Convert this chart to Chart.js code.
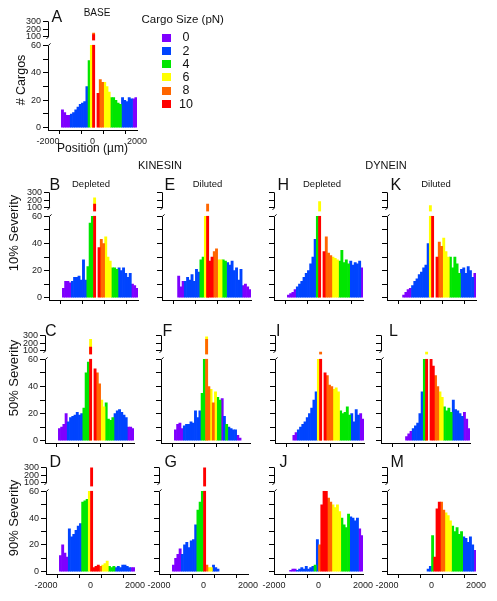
<!DOCTYPE html>
<html>
<head>
<meta charset="utf-8">
<script src="https://cdn.jsdelivr.net/npm/chart.js@4.4.1/dist/chart.umd.min.js"></script>
<style>
  body { margin: 0; background: #fff; }
  #page { position: relative; width: 497px; height: 601px; overflow: hidden; font-family: "Liberation Sans", Arial, sans-serif; color: #111; }
  canvas { position: absolute; }
  .txt { position: absolute; white-space: nowrap; line-height: 1; }
  .letter { font-size: 16px; }
  .small { font-size: 9.5px; }
  .rot { font-size: 13px; transform: translate(-50%, -50%) rotate(-90deg); }
  .sw { position: absolute; width: 9px; height: 8px; }
</style>
</head>
<body>
<div id="page"></div>
<script>
// bin centres in µm (100 µm bins from -2000 to 2000)
const binCenters = [-1950, -1850, -1750, -1650, -1550, -1450, -1350, -1250, -1150, -1050,
    -950, -850, -750, -650, -550, -450, -350, -250, -150, -50,
    50, 150, 250, 350, 450, 550, 650, 750, 850, 950,
    1050, 1150, 1250, 1350, 1450, 1550, 1650, 1750, 1850, 1950];

const cargoSizes = [0, 2, 4, 6, 8, 10];
const cargoColors = ["#7f00ff", "#0044ff", "#00e600", "#ffff00", "#ff6600", "#ff0000"];

const yTicks = [0, 10, 20, 30, 40, 50, 60, 100, 200, 300];
const yLabels = [0, 20, 40, 60, 100, 200, 300];
const xLabels = [-2000, 0, 2000];

// counts per bin (height of the histogram) and the cargo size whose bar shows on top
const countsA = [0,0,0,0,0,0,13,11,9,9, 10,11,13,15,17,18,19,30,49,60, 130,0,25,35,33,33,30,26,22,22, 20,18,17,22,20,19,22,21,21,22];
const sizesA  = [0,0,0,0,0,0,0,0,0,0, 2,2,2,2,2,2,2,2,4,6, 10,10,10,8,8,6,6,6,4,4, 4,4,4,2,2,2,2,2,0,0];
const tipsA = [[20, 150, 8]];

const countsB = [0,0,0,0,0,0,7,12,12,11, 12,15,15,16,13,28,13,23,55,60, 150,0,37,43,40,45,30,27,22,22, 21,22,20,22,18,15,18,10,9,7];
const sizesB  = [0,0,0,0,0,0,0,0,0,0, 2,2,2,2,2,2,2,4,4,4, 10,10,10,8,8,6,6,6,4,4, 4,2,2,2,2,2,2,0,0,0];
const tipsB = [[20, 230, 6]];

const countsC = [0,0,0,0,0,0,9,10,12,20, 14,17,18,19,21,19,20,24,50,58, 150,0,53,50,42,30,25,28,16,15, 17,20,22,23,21,19,17,10,10,9];
const sizesC  = [0,0,0,0,0,0,0,0,0,0, 2,2,2,2,2,2,2,4,4,4, 10,10,10,8,8,6,6,4,4,4, 4,2,2,2,2,2,2,0,0,0];
const tipsC = [[20, 250, 6]];

const countsD = [0,0,0,0,0,0,12,20,14,11, 32,26,28,31,34,36,52,53,54,60, 300,3,4,5,4,5,6,8,4,3, 4,3,4,3,5,5,4,3,3,3];
const sizesD  = [0,0,0,0,0,0,0,0,0,0, 2,2,2,2,2,2,4,4,4,6, 10,10,10,10,8,6,6,6,4,4, 4,2,2,2,2,2,2,2,0,0];
const tipsD = [];

const countsE = [0,0,0,0,0,0,0,16,8,12, 12,15,13,17,12,21,19,28,30,60, 62,27,30,34,36,28,28,28,27,26, 24,27,20,22,13,21,9,10,8,6];
const sizesE  = [0,0,0,0,0,0,0,0,0,0, 2,2,2,2,2,2,2,4,4,6, 10,10,10,8,8,6,6,4,4,2, 2,2,2,2,2,2,0,0,0,0];
const tipsE = [[20, 150, 8]];

const countsF = [0,0,0,0,0,0,8,12,13,9, 11,12,12,14,13,22,17,22,35,60, 250,40,38,28,36,32,30,31,18,12, 10,9,8,8,4,2,0,0,0,0];
const sizesF  = [0,0,0,0,0,0,0,0,0,0, 2,2,2,2,2,2,2,2,4,4, 8,8,6,8,6,4,4,0,2,4, 2,2,2,2,0,0,0,0,0,0];
const tipsF = [[20, 280, 6]];

const countsG = [0,0,0,0,0,0,5,10,13,17, 13,20,22,18,23,24,35,46,52,60, 300,5,3,3,5,3,2,0,0,0, 0,0,0,0,0,0,0,0,0,0];
const sizesG  = [0,0,0,0,0,0,0,0,0,0, 2,2,2,2,2,2,2,4,4,4, 10,8,6,6,2,2,2,0,0,0, 0,0,0,0,0,0,0,0,0,0];
const tipsG = [];

const countsH = [0,0,0,0,0,0,2,3,4,6, 8,10,12,15,18,20,25,30,43,60, 62,0,34,45,33,31,30,29,28,27, 35,26,28,25,27,24,26,25,27,22];
const sizesH  = [0,0,0,0,0,0,0,0,0,0, 2,2,2,2,2,2,2,2,2,4, 10,10,10,8,8,8,6,6,6,4, 4,4,4,4,2,2,2,2,2,0];
const tipsH = [[20, 180, 6]];

const countsI = [0,0,0,0,0,0,0,0,4,6, 8,10,12,14,17,20,24,30,36,60, 62,0,50,48,41,40,38,39,36,22, 20,21,25,19,20,14,23,19,20,16];
const sizesI  = [0,0,0,0,0,0,0,0,0,0, 2,2,2,2,2,2,2,2,2,6, 10,10,10,8,8,8,6,6,6,4, 4,4,4,4,2,2,2,2,0,0];
const tipsI = [[20, 95, 8]];

const countsJ = [0,0,0,0,0,0,0,1,2,2, 1,2,3,2,4,2,3,4,5,24, 20,50,62,60,55,52,50,48,50,45, 40,35,33,43,41,40,38,40,32,27];
const sizesJ  = [0,0,0,0,0,0,0,0,0,0, 2,2,2,2,2,2,2,2,4,2, 8,10,10,10,8,8,6,6,6,6, 4,4,4,4,2,2,2,2,0,0];
const tipsJ = [];

const countsK = [0,0,0,0,0,0,0,2,4,6, 7,9,12,14,17,19,22,24,40,130, 62,0,30,41,38,44,34,30,30,22, 30,25,18,21,22,18,23,20,15,18];
const sizesK  = [0,0,0,0,0,0,0,0,0,0, 0,2,2,2,2,2,2,2,2,6, 10,10,10,8,8,6,6,6,4,4, 4,4,4,2,2,2,2,2,2,0];
const tipsK = [];

const countsL = [0,0,0,0,0,0,0,0,0,0, 0,3,5,7,9,11,13,20,36,60, 62,0,60,55,48,40,36,32,25,22, 24,21,30,23,22,20,18,21,16,9];
const sizesL  = [0,0,0,0,0,0,0,0,0,0, 0,0,0,0,2,2,2,2,2,4, 10,10,10,10,8,8,6,6,4,4, 4,4,2,2,2,2,2,0,0,0];
const tipsL = [[20, 95, 6]];

const countsM = [0,0,0,0,0,0,0,0,0,0, 0,0,0,0,0,0,0,0,2,4, 27,11,47,52,52,46,44,42,38,34, 30,33,28,30,26,25,22,26,20,16];
const sizesM  = [0,0,0,0,0,0,0,0,0,0, 0,0,0,0,0,0,0,0,2,2, 4,10,10,10,8,8,6,6,6,4, 4,4,4,4,2,2,2,2,2,0];
const tipsM = [];

// layout: y-axis x position, pixel of the 300 tick, pixel of the x axis line
const panels = [
    { id: "A", counts: countsA, sizes: sizesA, tips: tipsA, ax: 48.3, top: 20, bottom: 130, yLab: true, xLab: true },
    { id: "B", counts: countsB, sizes: sizesB, tips: tipsB, ax: 48.5, top: 190.7, bottom: 299.3, yLab: true, xLab: false },
    { id: "E", counts: countsE, sizes: sizesE, tips: tipsE, ax: 162.3, top: 190.7, bottom: 299.3, yLab: false, xLab: false },
    { id: "H", counts: countsH, sizes: sizesH, tips: tipsH, ax: 274.3, top: 190.7, bottom: 299.3, yLab: false, xLab: false },
    { id: "K", counts: countsK, sizes: sizesK, tips: tipsK, ax: 386.7, top: 190.7, bottom: 299.3, yLab: false, xLab: false },
    { id: "C", counts: countsC, sizes: sizesC, tips: tipsC, ax: 45, top: 334, bottom: 443, yLab: true, xLab: false },
    { id: "F", counts: countsF, sizes: sizesF, tips: tipsF, ax: 160.7, top: 334, bottom: 443, yLab: false, xLab: false },
    { id: "I", counts: countsI, sizes: sizesI, tips: tipsI, ax: 275, top: 334, bottom: 443, yLab: false, xLab: false },
    { id: "L", counts: countsL, sizes: sizesL, tips: tipsL, ax: 381, top: 334, bottom: 443, yLab: false, xLab: false },
    { id: "D", counts: countsD, sizes: sizesD, tips: tipsD, ax: 45.5, top: 465.7, bottom: 574, yLab: true, xLab: true },
    { id: "G", counts: countsG, sizes: sizesG, tips: tipsG, ax: 159.3, top: 465.7, bottom: 574, yLab: false, xLab: true },
    { id: "J", counts: countsJ, sizes: sizesJ, tips: tipsJ, ax: 273.7, top: 465.7, bottom: 574, yLab: false, xLab: true },
    { id: "M", counts: countsM, sizes: sizesM, tips: tipsM, ax: 386.7, top: 465.7, bottom: 574, yLab: false, xLab: true },
];

const PLOT_W = 89;
const Y_AXIS_W = 30;
const X_AXIS_H = 18;
const PAD_T = 6;
const PAD_R = 16;
const STANDOFF = 2.3;  // gap between the zero line and the x axis
const GAP = 8.5;       // height of the axis break between 60 and 100
const HIGH = 15.5;     // height of the 100..300 segment

// y scale with a break: 0..60 linear, then 100..300 squeezed on top
class BrokenScale extends Chart.LinearScale {
    _segments() {
        const y0 = this.bottom - STANDOFF;
        const low = y0 - this.top - GAP - HIGH;
        return { y0: y0, y60: y0 - low, low: low };
    }
    getPixelForValue(v) {
        const s = this._segments();
        if (v <= 60) return s.y0 - (v / 60) * s.low;
        if (v < 100) return s.y60 - ((v - 60) / 40) * GAP;
        return s.y60 - GAP - ((v - 100) / 200) * HIGH;
    }
    getValueForPixel(p) {
        const s = this._segments();
        if (p >= s.y60) return ((s.y0 - p) / s.low) * 60;
        if (p >= s.y60 - GAP) return 60 + ((s.y60 - p) / GAP) * 40;
        return 100 + ((s.y60 - GAP - p) / HIGH) * 200;
    }
}
BrokenScale.id = "broken";
BrokenScale.defaults = Chart.LinearScale.defaults;
Chart.register(BrokenScale);

// white notch across the bars and the broken y axis line
const breakPlugin = {
    id: "breakPlugin",
    afterDatasetsDraw(chart) {
        const y = chart.scales.y, ctx = chart.ctx, area = chart.chartArea;
        const p60 = y.getPixelForValue(60);
        ctx.save();
        ctx.fillStyle = "#fff";
        ctx.fillRect(area.left, p60 - 5, area.right - area.left + 2, 4.5);
        ctx.restore();
    },
    afterDraw(chart) {
        const y = chart.scales.y, ctx = chart.ctx;
        const x = Math.round(y.right) + 0.5;
        const p0 = chart.chartArea.bottom, p60 = y.getPixelForValue(60);
        const p100 = y.getPixelForValue(100), p300 = y.getPixelForValue(300);
        ctx.save();
        ctx.strokeStyle = "#000";
        ctx.lineWidth = 1;
        ctx.beginPath();
        ctx.moveTo(x, p0);
        ctx.lineTo(x, p60);
        ctx.lineTo(x + 2, p60 - 2);
        ctx.moveTo(x, p300);
        ctx.lineTo(x, p100);
        ctx.lineTo(x - 2, p100 + 2);
        ctx.stroke();
        ctx.restore();
    }
};

function buildDatasets(p) {
    const sets = [];
    cargoSizes.forEach((s, k) => {
        sets.push({
            data: binCenters.map((x, i) => ({ x: x, y: (p.sizes[i] === s && p.counts[i] > 0) ? p.counts[i] : null })),
            backgroundColor: cargoColors[k],
            order: 10 - k,
        });
    });
    // taller bars of another cargo size peeking out above the centre spike
    p.tips.forEach(t => {
        const k = cargoSizes.indexOf(t[2]);
        sets.push({
            data: binCenters.map((x, i) => ({ x: x, y: i === t[0] ? t[1] : null })),
            backgroundColor: cargoColors[k],
            order: 20,
        });
    });
    sets.forEach(d => {
        d.barPercentage = 1;
        d.categoryPercentage = 1;
        d.grouped = false;
        d.borderWidth = 0;
    });
    return sets;
}

const page = document.getElementById("page");
const tickFont = { family: "'Liberation Sans', Arial, sans-serif", size: 9 };

panels.forEach(p => {
    const canvas = document.createElement("canvas");
    const w = Y_AXIS_W + PLOT_W + PAD_R;
    const h = PAD_T + (p.bottom - p.top) + X_AXIS_H;
    canvas.width = Math.round(w);
    canvas.height = Math.round(h);
    canvas.style.left = Math.round(p.ax - Y_AXIS_W) + "px";
    canvas.style.top = Math.round(p.top - PAD_T) + "px";
    page.appendChild(canvas);

    new Chart(canvas, {
        type: "bar",
        data: { datasets: buildDatasets(p) },
        options: {
            responsive: false,
            animation: false,
            devicePixelRatio: 1,
            layout: { padding: { top: PAD_T, right: PAD_R, left: 0, bottom: 0 } },
            plugins: { legend: { display: false }, tooltip: { enabled: false } },
            scales: {
                x: {
                    type: "linear", min: -2000, max: 2000, offset: false,
                    ticks: {
                        stepSize: 1000, autoSkip: false, maxRotation: 0, padding: 2,
                        font: tickFont, color: "#222",
                        callback: v => (p.xLab && xLabels.includes(v)) ? String(v) : "",
                    },
                    grid: { drawOnChartArea: false, tickLength: 4, color: "#000" },
                    border: { color: "#000" },
                    afterFit: s => { s.height = X_AXIS_H; },
                },
                y: {
                    type: "broken", min: 0, max: 300,
                    ticks: {
                        autoSkip: false, padding: 2, font: tickFont, color: "#222",
                        callback: v => (p.yLab && yLabels.includes(v)) ? String(v) : "",
                    },
                    afterBuildTicks: s => { s.ticks = yTicks.map(v => ({ value: v })); },
                    grid: { drawOnChartArea: false, tickLength: 5, color: "#000" },
                    border: { display: false },
                    afterFit: s => { s.width = Y_AXIS_W; },
                },
            },
        },
        plugins: [breakPlugin],
    });
});

// text around the panels
function addText(text, cls, left, baseline, size, center) {
    const d = document.createElement("div");
    d.className = "txt " + cls;
    d.textContent = text;
    d.style.fontSize = size + "px";
    d.style.top = (baseline - 0.85 * size) + "px";
    if (center) {
        d.style.left = left + "px";
        d.style.transform = "translateX(-50%)";
    } else {
        d.style.left = left + "px";
    }
    page.appendChild(d);
}

const letterPos = [["A", 51.5, 23], ["B", 49.5, 191], ["E", 164.5, 191], ["H", 277.5, 191], ["K", 390.5, 191],
    ["C", 45, 337], ["F", 162.5, 337], ["I", 276, 337], ["L", 389, 337],
    ["D", 49.5, 468], ["G", 164.5, 468], ["J", 279.5, 468], ["M", 390.5, 468]];
letterPos.forEach(l => addText(l[0], "letter", l[1], l[2], 16, false));

addText("BASE", "", 97, 16, 10, true);
addText("Depleted", "", 91, 187, 9.5, true);
addText("Diluted", "", 207.5, 187, 9.5, true);
addText("Depleted", "", 322, 187, 9.5, true);
addText("Diluted", "", 436, 187, 9.5, true);
addText("KINESIN", "", 160, 169, 11, true);
addText("DYNEIN", "", 386, 169, 11, true);
addText("Position (µm)", "", 92.5, 152.5, 12, true);

const rowLabels = [["# Cargos", 21, 80, 12.5], ["10% Severity", 13, 233, 13], ["50% Severity", 13, 378, 13], ["90% Severity", 13, 518, 13]];
rowLabels.forEach(r => {
    const d = document.createElement("div");
    d.className = "txt rot";
    d.textContent = r[0];
    d.style.fontSize = r[3] + "px";
    d.style.left = r[1] + "px";
    d.style.top = r[2] + "px";
    page.appendChild(d);
});

// legend
addText("Cargo Size (pN)", "", 141.5, 24, 11.5, false);
const legendRows = [37.5, 50.8, 64, 77.3, 90.6, 104];
cargoSizes.forEach((s, k) => {
    const sw = document.createElement("div");
    sw.className = "sw";
    sw.style.background = cargoColors[k];
    sw.style.left = "161.5px";
    sw.style.top = (legendRows[k] - 4) + "px";
    page.appendChild(sw);
    addText(String(s), "", 186, legendRows[k] + 4.5, 12.5, true);
});
</script>
</body>
</html>
